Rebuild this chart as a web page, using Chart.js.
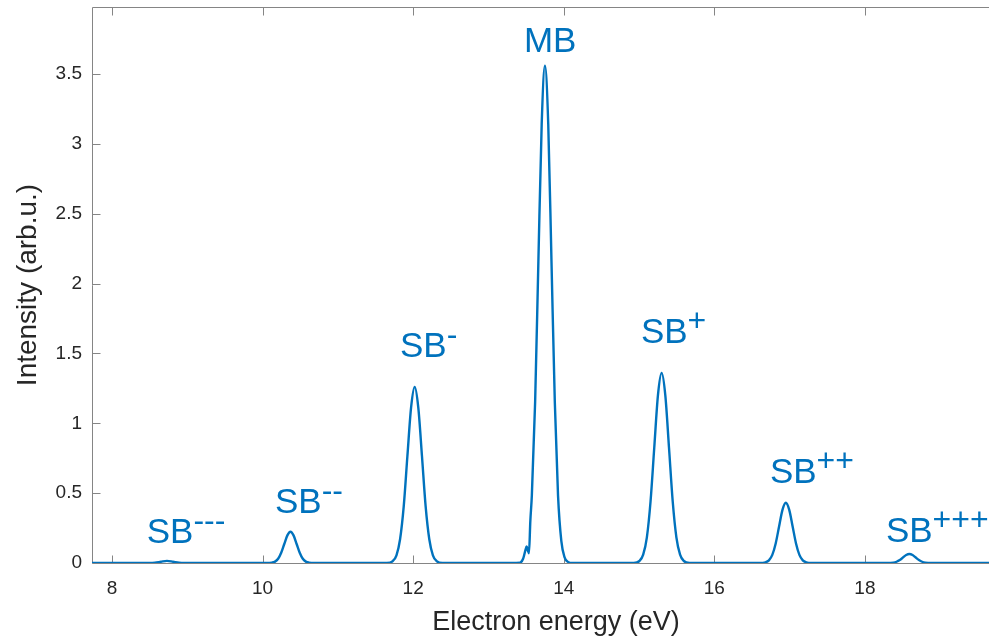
<!DOCTYPE html>
<html><head><meta charset="utf-8">
<script src="https://cdn.jsdelivr.net/npm/chart.js@4"></script>
<style>html,body{margin:0;padding:0;overflow:hidden;background:#fff;width:989px;height:641px}canvas{display:block}</style>
</head><body><canvas id="c" width="1020" height="641"></canvas>
<script>
// Electron energy (eV)
const energy = [7.70,
 8.50,8.57,8.65,8.73,8.81,8.89,8.96,
 10.05,10.124,10.165,10.206,10.247,10.288,10.329,10.37,10.411,10.452,10.493,10.534,10.575,10.616,10.69,
 11.65,11.729,11.778,11.826,11.875,11.923,11.972,12.02,12.068,12.117,12.165,12.214,12.262,12.311,12.39,
 13.30,13.42,13.46,13.49,13.507,13.522,13.538,13.556,13.576,13.62,13.663,13.707,13.75,13.794,13.837,13.881,13.924,13.968,14.011,14.055,14.12,
 14.93,15.006,15.055,15.104,15.153,15.202,15.251,15.30,15.349,15.398,15.447,15.496,15.545,15.594,15.67,
 16.60,16.68,16.725,16.77,16.815,16.86,16.905,16.95,16.995,17.04,17.085,17.13,17.175,17.22,17.30,
 18.30,18.378,18.42,18.463,18.505,18.548,18.59,18.633,18.675,18.718,18.76,18.803,18.88,
 20.3];
// Intensity (arb.u.)
const intensity = [0,
 0,0.002,0.009,0.015,0.009,0.002,0,
 0,0.003,0.010,0.030,0.073,0.136,0.198,0.224,0.198,0.136,0.073,0.030,0.010,0.003,0,
 0,0.014,0.055,0.170,0.409,0.764,1.112,1.26,1.112,0.764,0.409,0.170,0.055,0.014,0,
 0,0.003,0.030,0.090,0.118,0.092,0.070,0.30,0.482,1.156,2.159,3.142,3.56,3.142,2.159,1.156,0.482,0.156,0.040,0.008,0,
 0,0.015,0.060,0.184,0.442,0.825,1.200,1.36,1.200,0.825,0.442,0.184,0.060,0.015,0,
 0,0.005,0.019,0.058,0.140,0.261,0.380,0.431,0.380,0.261,0.140,0.058,0.019,0.005,0,
 0,0.003,0.009,0.021,0.039,0.057,0.064,0.057,0.039,0.021,0.009,0.003,0,
 0];
const xTicks = [8,10,12,14,16,18,20];
const yTicks = [0,0.5,1,1.5,2,2.5,3,3.5];
const yTickLabels = ['0','0.5','1','1.5','2','2.5','3','3.5'];
// peak annotations
const peakText = ['SB','SB','SB','MB','SB','SB','SB'];
const peakSup  = ['---','--','-','','+','++','+++'];
const labelE   = [8.461,10.165,11.825,13.471,15.025,16.738,18.279];
const labelI   = [0.141,0.356,1.474,3.657,1.574,0.572,0.152];

const BLUE = '#0072BD', TXT = '#262626', AX = '#858585';
const FONT = "'Liberation Sans', Arial, Helvetica, sans-serif";

const framePlugin = {
  id: 'frame',
  beforeDatasetsDraw(chart) {
    const {ctx, chartArea: a, scales: {x, y}} = chart;
    ctx.save();
    ctx.strokeStyle = AX; ctx.lineWidth = 1;
    const L = Math.round(a.left) + 0.5, T = Math.round(a.top) + 0.5,
          B = Math.round(a.bottom) + 0.5, R = Math.round(a.right) - 0.5;
    ctx.beginPath();
    ctx.moveTo(L, T); ctx.lineTo(R, T); ctx.lineTo(R, B); ctx.lineTo(L, B); ctx.closePath();
    const tl = 8;
    x.ticks.forEach(t => {
      const p = Math.round(x.getPixelForValue(t.value)) + 0.5;
      ctx.moveTo(p, B); ctx.lineTo(p, B - tl);
      ctx.moveTo(p, T); ctx.lineTo(p, T + tl);
    });
    y.ticks.forEach(t => {
      const p = Math.round(y.getPixelForValue(t.value)) + 0.5;
      ctx.moveTo(L, p); ctx.lineTo(L + tl, p);
      ctx.moveTo(R, p); ctx.lineTo(R - tl, p);
    });
    ctx.stroke();
    ctx.restore();
  },
  afterDraw(chart) {
    const {ctx, scales: {x, y}} = chart;
    ctx.save();
    ctx.fillStyle = BLUE;
    ctx.textBaseline = 'alphabetic';
    ctx.textAlign = 'left';
    for (let i = 0; i < peakText.length; i++) {
      const px = x.getPixelForValue(labelE[i]);
      const py = y.getPixelForValue(labelI[i]);
      ctx.font = "35px " + FONT;
      ctx.fillText(peakText[i], px, py);
      const w = ctx.measureText(peakText[i]).width;
      if (peakSup[i]) {
        ctx.font = "32px " + FONT;
        ctx.fillText(peakSup[i], px + w, py - 12);
      }
    }
    ctx.restore();
  }
};

new Chart(document.getElementById('c'), {
  type: 'line',
  data: {
    datasets: [{
      data: energy.map((e, i) => ({x: e, y: intensity[i]})),
      borderColor: BLUE,
      borderWidth: 2.4,
      pointRadius: 0,
      fill: false,
      cubicInterpolationMode: 'monotone'
    }]
  },
  options: {
    responsive: false,
    animation: false,
    events: [],
    layout: {padding: {top: 7, right: 0, bottom: 0, left: 0}},
    plugins: {legend: {display: false}, tooltip: {enabled: false}},
    scales: {
      x: {
        type: 'linear', min: 7.734, max: 20.06,
        grid: {display: false, drawTicks: false},
        border: {display: false},
        afterBuildTicks: s => { s.ticks = xTicks.map(v => ({value: v})); },
        afterFit: s => { s.height = 78; s.paddingLeft = 0; s.paddingRight = 0; },
        ticks: {padding: 14, color: TXT, font: {family: FONT, size: 19}, callback: v => String(v)},
        title: {display: true, text: 'Electron energy (eV)', color: TXT,
                font: {family: FONT, size: 27, lineHeight: 1}, padding: {top: 0, bottom: 5}}
      },
      y: {
        type: 'linear', min: 0, max: 3.98,
        grid: {display: false, drawTicks: false},
        border: {display: false},
        afterBuildTicks: s => { s.ticks = yTicks.map(v => ({value: v})); },
        afterFit: s => { s.width = 92; s.paddingTop = 0; s.paddingBottom = 0; },
        ticks: {padding: 10, color: TXT, font: {family: FONT, size: 19},
                callback: (v) => yTickLabels[yTicks.indexOf(v)] ?? String(v)},
        title: {display: true, text: 'Intensity (arb.u.)', color: TXT,
                font: {family: FONT, size: 28, lineHeight: 1}, padding: {top: 14, bottom: 0}}
      }
    }
  },
  plugins: [framePlugin]
});
</script>
</body></html>
